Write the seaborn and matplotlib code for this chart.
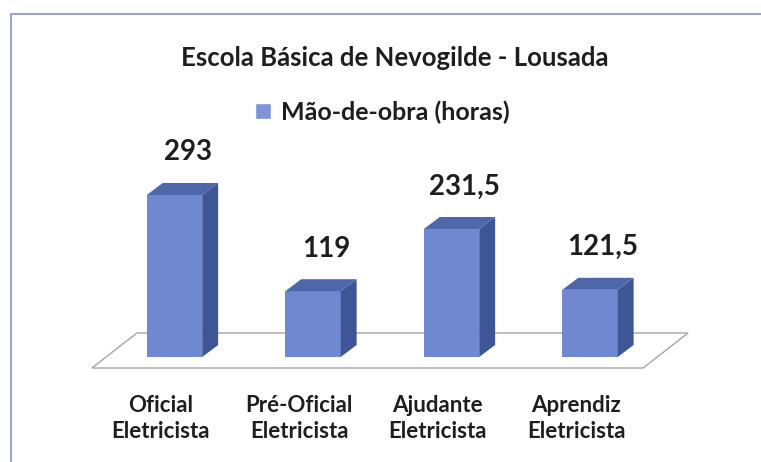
import pandas as pd
import matplotlib.pyplot as plt
import seaborn as sns
from matplotlib.patches import Polygon, Patch
from matplotlib.lines import Line2D

# data
categorias = ["Oficial\nEletricista", "Pré-Oficial\nEletricista",
              "Ajudante\nEletricista", "Aprendiz\nEletricista"]
horas = [293, 119, 231.5, 121.5]
rotulos = ["293", "119", "231,5", "121,5"]
serie = "Mão-de-obra (horas)"
titulo = "Escola Básica de Nevogilde - Lousada"


def main():
    df = pd.DataFrame({"cargo": categorias, "horas": horas})

    sns.set_theme(style="white")
    plt.rcParams["font.family"] = ["Lato", "DejaVu Sans"]

    frente = "#6f88cf"
    lado = "#3e5696"
    topo = "#4d67aa"
    texto = "#1e1e1e"

    fig = plt.figure(figsize=(7.61, 4.62), dpi=100)
    ax = fig.add_axes([0, 0, 1, 1])

    sns.barplot(data=df, x="cargo", y="horas", color=frente, width=0.4,
                saturation=1, edgecolor="none", ax=ax, zorder=3)

    # pseudo 3D depth (Excel style)
    dx, dy = 0.115, 21.7
    for p, rot in zip(ax.patches, rotulos):
        x, w, h = p.get_x(), p.get_width(), p.get_height()
        ax.add_patch(Polygon([(x + w, 0), (x + w + dx, dy), (x + w + dx, h + dy), (x + w, h)],
                             closed=True, facecolor=lado, edgecolor="none", zorder=3))
        ax.add_patch(Polygon([(x, h), (x + w, h), (x + w + dx, h + dy), (x + dx, h + dy)],
                             closed=True, facecolor=topo, edgecolor="none", zorder=3))
        ax.annotate(rot, xy=(x + w / 2 + 0.095, h + dy), xytext=(0, 22),
                    textcoords="offset points", ha="center", va="center",
                    fontsize=20, fontweight="bold", color=texto)

    # floor
    chao = Polygon([(-0.596, -19.9), (3.383, -19.9), (3.708, 43.4), (-0.271, 43.4)],
                   closed=True, facecolor="white", edgecolor="#a4a4a8", lw=1.0, zorder=1)
    ax.add_patch(chao)

    for i, cat in enumerate(categorias):
        ax.text(i - 0.1, -112, cat, ha="center", va="center", fontsize=16,
                fontweight="bold", color=texto, linespacing=1.3)

    ax.set_xlim(-174.5 / 138.5, (761 - 174.5) / 138.5)
    ax.set_ylim(-105 / 0.553, (462 - 105) / 0.553)
    ax.axis("off")

    fig.text(0.519, 1 - 58 / 462, titulo, ha="center", va="center",
             fontsize=18.5, fontweight="bold", color=texto)
    ax.legend(handles=[Patch(facecolor="#7f93d6", label=serie)],
              loc="center", bbox_to_anchor=(382 / 761, 1 - 112 / 462),
              bbox_transform=fig.transFigure, frameon=False,
              handlelength=0.65, handleheight=0.65, handletextpad=0.4,
              prop={"size": 18, "weight": "bold"}, labelcolor=texto)

    # border of the chart area
    fig.add_artist(Line2D([11 / 761, 11 / 761], [0, 1 - 14 / 462], color="#9aa4d0", lw=1.5))
    fig.add_artist(Line2D([11 / 761, 1], [1 - 14 / 462, 1 - 14 / 462], color="#9aa4d0", lw=1.5))

    fig.savefig("out.png", dpi=100)


if __name__ == "__main__":
    main()
